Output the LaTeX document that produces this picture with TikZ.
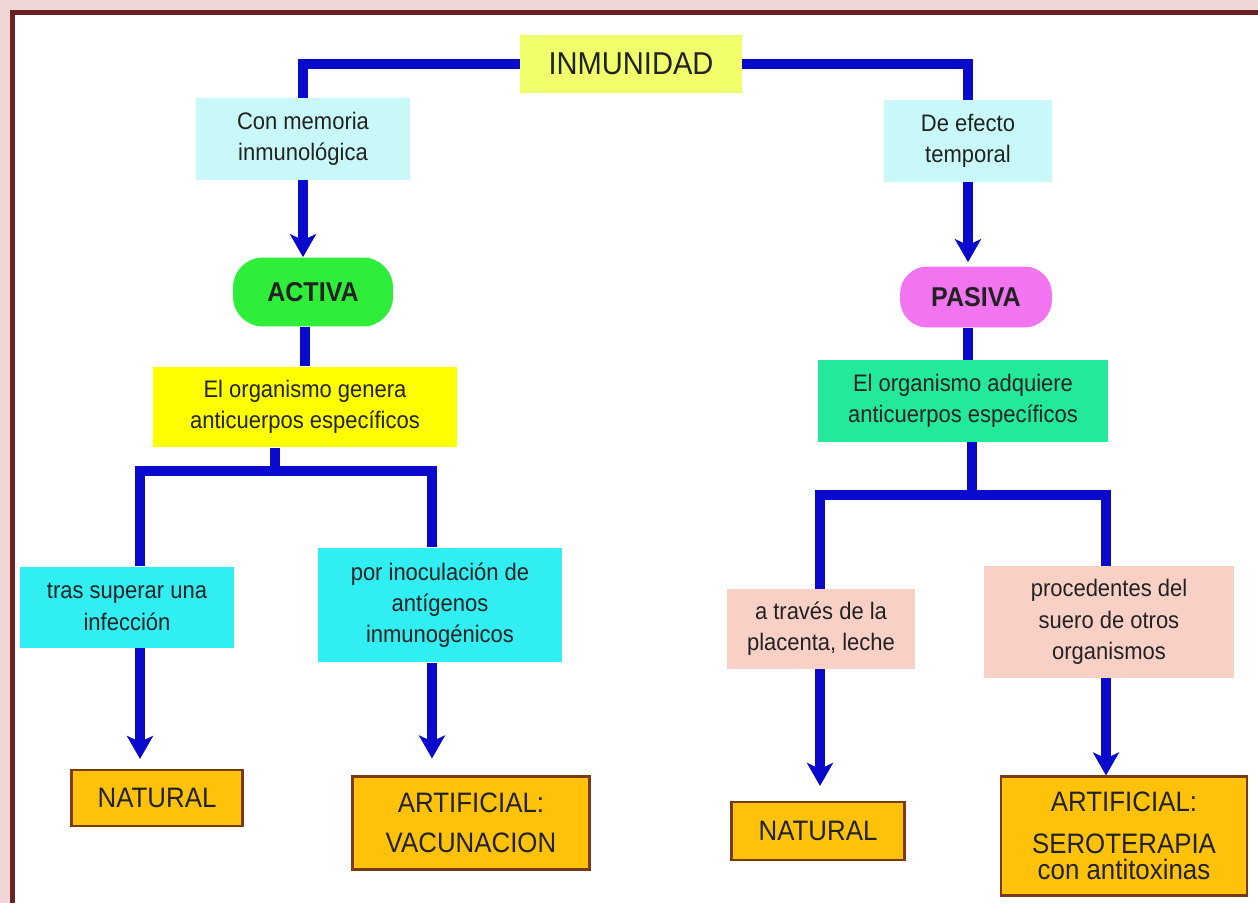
\documentclass[tikz,border=0pt]{standalone}
\usepackage{fontspec}
\setmainfont{Liberation Sans}[FakeStretch=0.92]
\usepackage{tikz}
\usetikzlibrary{arrows.meta,calc,positioning}
\definecolor{frame}{HTML}{6B2222}
\definecolor{framebg}{HTML}{F0D6D6}
\definecolor{lineblue}{HTML}{0A0ACC}
\definecolor{ink}{HTML}{222222}
\definecolor{titleyellow}{HTML}{F0FF6A}
\definecolor{palecyan}{HTML}{C8F8F8}
\definecolor{activegreen}{HTML}{2EEE3A}
\definecolor{passivepink}{HTML}{F274F0}
\definecolor{genyellow}{HTML}{FFFF00}
\definecolor{mint}{HTML}{22EA9A}
\definecolor{waycyan}{HTML}{30EEF2}
\definecolor{peach}{HTML}{F8D0C6}
\definecolor{resultorange}{HTML}{FFC20A}
\definecolor{resultedge}{HTML}{7A3A12}

\tikzset{
  box/.style={inner sep=0pt, align=center, text=ink, font=\fontsize{13.6}{17.8}\selectfont},
  kind/.style={box, rounded corners=0.6cm, font=\bfseries\fontsize{15.5}{18}\selectfont},
  result/.style={box, fill=resultorange, draw=resultedge, line width=1.2pt, font=\fontsize{16}{22.7}\selectfont},
  link/.style={draw=lineblue, line width=0.2cm},
  arrowlink/.style={link, -{Stealth[length=0.46cm, width=0.52cm, inset=0.12cm]}}
}

\begin{document}
\begin{tikzpicture}[x=0.02cm, y=-0.02cm]
  \useasboundingbox (0,0) rectangle (1258,903);
  \fill[framebg] (0,0) rectangle (1258,903);
  \fill[white] (12.5,12.5) rectangle (1258,903);
  \draw[frame, line width=0.1cm] (12.5,903) -- (12.5,12.5) -- (1258,12.5);

  \node[box, fill=titleyellow, minimum width=4.44cm, minimum height=1.16cm, font=\fontsize{18}{20}\selectfont] (inm) at (631,64) {INMUNIDAD};

  % activa
  \node[box, fill=palecyan, minimum width=4.28cm, minimum height=1.64cm] (mem) at (303,139) {Con memoria\\inmunológica};
  \node[kind, fill=activegreen, minimum width=3.2cm, minimum height=1.38cm] (act) at (313,292) {ACTIVA};
  \node[box, fill=genyellow, minimum width=6.08cm, minimum height=1.62cm] (gen) at (305,407) {El organismo genera\\anticuerpos específicos};
  \node[box, fill=waycyan, minimum width=4.3cm, minimum height=1.62cm] (tras) at (127,607) {tras superar una\\infección};
  \node[box, fill=waycyan, minimum width=4.9cm, minimum height=2.3cm] (inoc) at (440,605) {por inoculación de\\antígenos\\inmunogénicos};
  \node[result, minimum width=3.42cm, minimum height=1.12cm] (nat1) at (157,798) {NATURAL};
  \node[result, minimum width=4.74cm, minimum height=1.86cm] (vac) at (471,823) {ARTIFICIAL:\\VACUNACION};

  % pasiva
  \node[box, fill=palecyan, minimum width=3.36cm, minimum height=1.64cm] (efe) at (968,141) {De efecto\\temporal};
  \node[kind, fill=passivepink, minimum width=3.04cm, minimum height=1.22cm, rounded corners=0.55cm] (pas) at (976,297) {PASIVA};
  \node[box, fill=mint, minimum width=5.8cm, minimum height=1.64cm] (adq) at (963,401) {El organismo adquiere\\anticuerpos específicos};
  \node[box, fill=peach, minimum width=3.78cm, minimum height=1.6cm] (plac) at (821,629) {a través de la\\placenta, leche};
  \node[box, fill=peach, minimum width=5.0cm, minimum height=2.24cm] (proc) at (1109,622) {procedentes del\\suero de otros\\organismos};
  \node[result, minimum width=3.46cm, minimum height=1.16cm] (nat2) at (818,831) {NATURAL};
  \node[result, minimum width=4.92cm, minimum height=2.38cm] (sero) at (1124,836) {ARTIFICIAL:\\[1pt]SEROTERAPIA\\[-8pt]con antitoxinas};

  \coordinate (stemA) at (275,471);
  \coordinate (brA1) at (140,471);
  \coordinate (brA2) at (432,471);
  \coordinate (stemP) at (972,495);
  \coordinate (brP1) at (820,495);
  \coordinate (brP2) at (1106,495);

  \draw[link] (inm.west) -| (mem.north);
  \draw[link] (inm.east) -| (efe.north);

  \draw[arrowlink] (mem.south) -- (mem.south |- act.north);
  \draw[link] (act.south -| gen.north) -- (gen.north);
  \draw[link] (stemA |- gen.south) -- (stemA);
  \draw[link] (brA1 |- tras.north) -- (brA1) -- (brA2) -- (brA2 |- inoc.north);
  \draw[arrowlink, shorten >=0.2cm] (brA1 |- tras.south) -- (brA1 |- nat1.north);
  \draw[arrowlink, shorten >=0.34cm] (brA2 |- inoc.south) -- (brA2 |- vac.north);

  \draw[arrowlink, shorten >=0.08cm] (efe.south) -- (efe.south |- pas.north);
  \draw[link] (pas.south -| efe.south) -- (efe.south |- adq.north);
  \draw[link] (stemP |- adq.south) -- (stemP);
  \draw[link] (brP1 |- plac.north) -- (brP1) -- (brP2) -- (brP2 |- proc.north);
  \draw[arrowlink, shorten >=0.3cm] (brP1 |- plac.south) -- (brP1 |- nat2.north);
  \draw[arrowlink] (brP2 |- proc.south) -- (brP2 |- sero.north);
\end{tikzpicture}
\end{document}
